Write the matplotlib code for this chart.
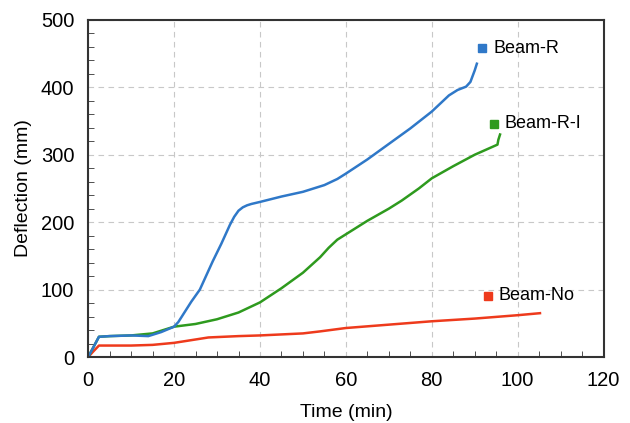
import matplotlib.pyplot as plt
from matplotlib.ticker import MultipleLocator

plt.rcParams['font.family'] = ['Liberation Sans', 'DejaVu Sans']

# Beam-R (blue)
r_time = [0, 1, 2.5, 5, 10, 14, 17, 20, 21, 22, 23, 24, 25, 26, 27, 28, 29, 30, 31, 32, 33,
          34, 35, 36, 37, 38, 40, 45, 50, 55, 58, 60, 65, 70, 75, 80, 82, 84, 86, 88, 89, 90, 90.5]
r_defl = [0, 12, 30, 31, 32, 31, 37, 45, 52, 62, 72, 82, 91, 100, 114, 128, 142, 155, 168, 182, 196,
          208, 217, 222, 225, 227, 230, 238, 245, 255, 264, 272, 293, 316, 339, 364, 376, 388, 396, 401, 408, 425, 435]

# Beam-R-I (green)
ri_time = [0, 1, 2.5, 5, 10, 15, 17, 20, 25, 30, 35, 40, 45, 50, 54, 56, 58, 60, 62, 65, 70, 73,
           77, 80, 85, 90, 95.3, 95.5, 95.9]
ri_defl = [0, 12, 30, 31, 32, 35, 39, 45, 49, 56, 66, 81, 102, 125, 148, 162, 174, 182, 190, 202, 220, 232,
           250, 265, 283, 300, 315, 322, 330]

# Beam-No (red)
no_time = [0, 1, 2.5, 5, 10, 15, 20, 25, 28, 35, 40, 50, 54, 60, 70, 80, 90, 100, 105.2]
no_defl = [0, 7, 17, 17, 17, 18, 21, 26, 29, 31, 32, 35, 38, 43, 48, 53, 57, 62, 65]

labels = ['Beam-R', 'Beam-R-I', 'Beam-No']
label_pos = [(91.8, 458), (94.4, 346), (93.0, 91)]
colors = ['#2f78c8', '#2e9a1e', '#ee3a1c']

fig, ax = plt.subplots(figsize=(6.3, 4.23), dpi=100)
fig.subplots_adjust(left=0.14, right=0.958, top=0.953, bottom=0.156)

ax.plot(no_time, no_defl, color=colors[2], lw=1.8)
ax.plot(ri_time, ri_defl, color=colors[1], lw=1.8)
ax.plot(r_time, r_defl, color=colors[0], lw=1.8)

for (lx, ly), lab, c in zip(label_pos, labels, colors):
    ax.plot(lx, ly, marker='s', ms=6, color=c, ls='none')
    ax.text(lx + 2.6, ly, lab, fontsize=13, va='center', ha='left')

ax.set_xlim(0, 120)
ax.set_ylim(0, 500)
ax.xaxis.set_major_locator(MultipleLocator(20))
ax.xaxis.set_minor_locator(MultipleLocator(5))
ax.yaxis.set_major_locator(MultipleLocator(100))
ax.yaxis.set_minor_locator(MultipleLocator(20))
ax.tick_params(which='both', direction='in', colors='#333333', labelcolor='black', labelsize=14.5)
ax.tick_params(which='major', length=0, pad=10)
ax.tick_params(which='minor', length=4)
ax.grid(True, which='major', ls=(0, (5, 4)), color='#c8c8c8', lw=0.8)
for sp in ax.spines.values():
    sp.set_color('#333333')
    sp.set_linewidth(1.5)

ax.set_xlabel('Time (min)', fontsize=14, labelpad=10)
ax.set_ylabel('Deflection (mm)', fontsize=14, labelpad=6)

fig.savefig('out.png', dpi=100)
